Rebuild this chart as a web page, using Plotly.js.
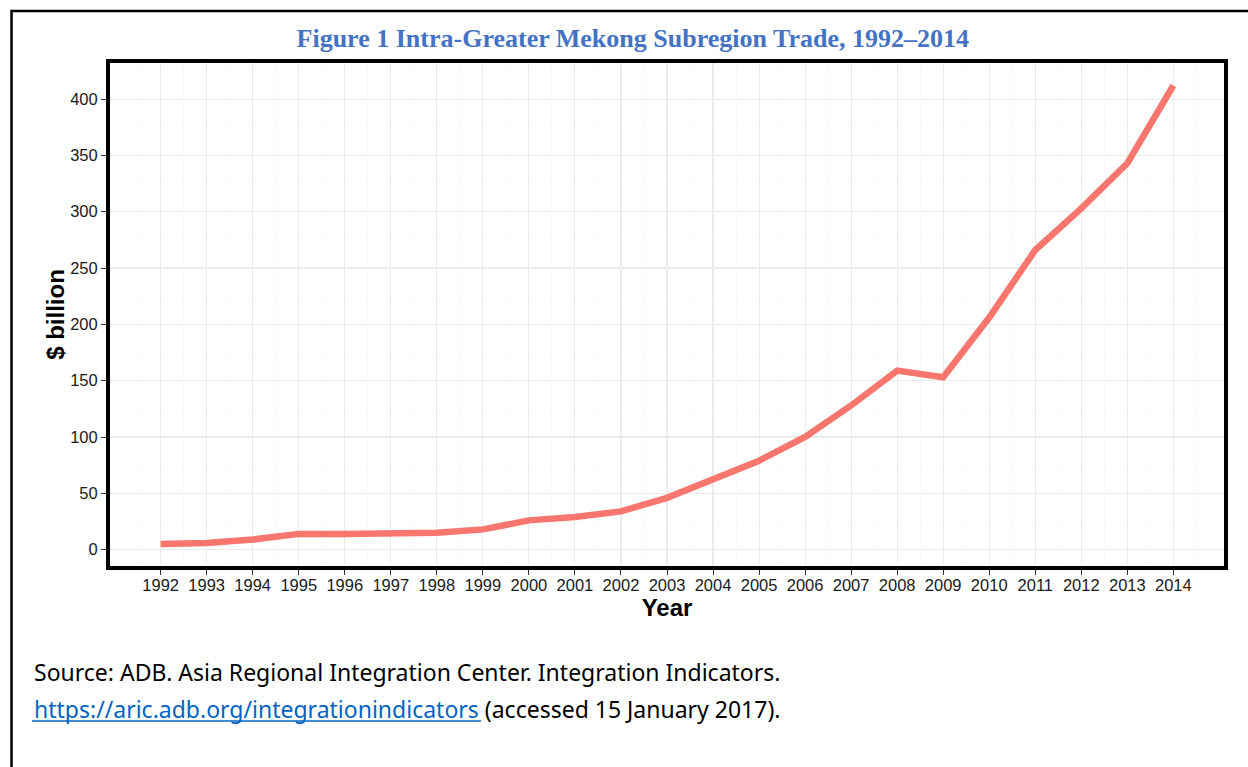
<!DOCTYPE html>
<html>
<head>
<meta charset="utf-8">
<script src="https://cdn.plot.ly/plotly-3.0.1.min.js"></script>
<style>
html,body{margin:0;padding:0;background:#fff;}
#chart{width:1248px;height:767px;}
</style>
</head>
<body>
<div id="chart"></div>
<script>
var years = [1992,1993,1994,1995,1996,1997,1998,1999,2000,2001,2002,2003,2004,2005,2006,2007,2008,2009,2010,2011,2012,2013,2014];
var tradeBillion = [5,6,9,14,14,15,15,18,26,29,34,46,62,79,100,128,159,153,206,266,303,343,412];
var yTickVals = [0,50,100,150,200,250,300,350,400];

var titleText = "Figure 1 Intra-Greater Mekong Subregion Trade, 1992\u20132014";
var xTitle = "Year";
var yTitle = "$ billion";
var sourceLine1 = "Source: ADB. Asia Regional Integration Center. Integration Indicators.";
var sourceLink = "https://aric.adb.org/integrationindicators";
var sourceLine2Rest = " (accessed 15 January 2017).";

var trace = {
  x: years,
  y: tradeBillion,
  type: 'scatter',
  mode: 'lines',
  line: {color: '#F8766D', width: 6.5},
  hoverinfo: 'x+y'
};

var tickFont = {family: 'Liberation Sans, Arial, sans-serif', size: 16.5, color: '#1a1a1a'};
var axisTitleFont = {family: 'Liberation Sans, Arial, sans-serif', size: 24, color: '#000000'};

var layout = {
  width: 1248,
  height: 767,
  margin: {l: 110, r: 24, t: 63, b: 201},
  paper_bgcolor: '#ffffff',
  plot_bgcolor: '#ffffff',
  showlegend: false,
  title: {
    text: '<b>' + titleText + '</b>',
    font: {family: 'Liberation Serif, serif', size: 26, color: '#4472C4'},
    xref: 'container', x: 0.507, xanchor: 'center',
    yref: 'container', y: 0.951, yanchor: 'middle'
  },
  xaxis: {
    range: [1990.9, 2015.1],
    tickmode: 'array', tickvals: years, ticktext: years.map(String),
    showgrid: true, gridcolor: '#ebebeb', gridwidth: 1.1,
    minor: {tickmode: 'linear', tick0: 1990.5, dtick: 1, showgrid: true, gridcolor: '#f6f6f6', gridwidth: 0.6},
    zeroline: false,
    showline: true, linecolor: '#000000', linewidth: 4, mirror: true,
    ticks: 'outside', ticklen: 5, tickcolor: '#333333', tickwidth: 1,
    ticklabelstandoff: -4,
    tickfont: tickFont,
    title: {text: '<b>' + xTitle + '</b>', font: axisTitleFont, standoff: 4}
  },
  yaxis: {
    range: [-14.5, 432],
    tickmode: 'array', tickvals: yTickVals, ticktext: yTickVals.map(String),
    showgrid: true, gridcolor: '#ebebeb', gridwidth: 1.1,
    minor: {tickmode: 'linear', tick0: -25, dtick: 50, showgrid: true, gridcolor: '#f6f6f6', gridwidth: 0.6},
    zeroline: false,
    showline: true, linecolor: '#000000', linewidth: 4, mirror: true,
    ticks: 'outside', ticklen: 5, tickcolor: '#333333', tickwidth: 1,
    tickfont: tickFont,
    title: {text: '<b>' + yTitle + '</b>', font: axisTitleFont, standoff: 0}
  },
  shapes: [
    {
      type: 'path', xref: 'paper', yref: 'paper',
      path: 'M -0.0884,-0.42 L -0.0884,1.1034 L 1.03,1.1034',
      line: {color: '#000000', width: 2.5}
    },
    {
      type: 'line', xref: 'paper', yref: 'paper',
      x0: (32-110)/1114, x1: (481-110)/1114,
      y0: (566-721)/503, y1: (566-721)/503,
      line: {color: '#0563C1', width: 1.5}
    }
  ],
  annotations: [
    {
      xref: 'paper', yref: 'paper',
      x: (32-110)/1114, y: (566-672)/503,
      xanchor: 'left', yanchor: 'middle', showarrow: false,
      text: sourceLine1,
      font: {family: 'Noto Sans, sans-serif', size: 23, color: '#000000'}
    },
    {
      xref: 'paper', yref: 'paper',
      x: (32-110)/1114, y: (566-709)/503,
      xanchor: 'left', yanchor: 'middle', showarrow: false,
      text: '<span style="color:#0563C1">' + sourceLink + '</span>' + sourceLine2Rest,
      font: {family: 'Noto Sans, sans-serif', size: 23, color: '#000000'}
    }
  ]
};

Plotly.newPlot('chart', [trace], layout, {displayModeBar: false, staticPlot: true});
</script>
</body>
</html>
